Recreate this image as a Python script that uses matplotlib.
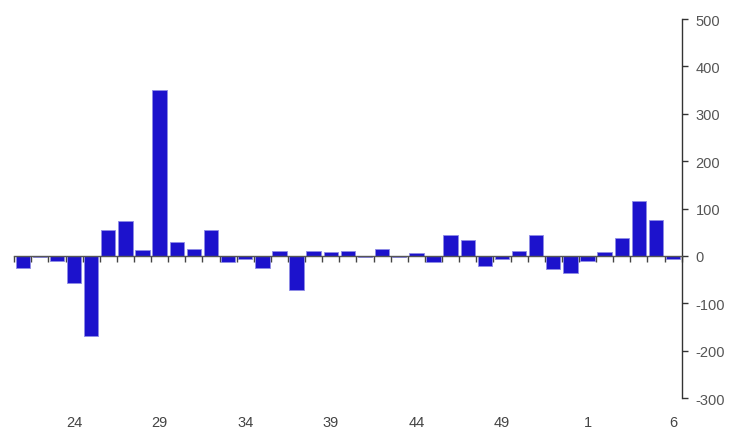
import numpy as np
import matplotlib
matplotlib.use("Agg")
import matplotlib.pyplot as plt
from matplotlib.ticker import FixedLocator

# weeks 21..53, then 1..6 of the next year
weeks = list(range(21, 54)) + list(range(1, 7))
values = [-25, -3, -10, -58, -169, 55, 73, 12, 350, 30, 14, 54, -12, -7,
          -26, 10, -73, 10, 8, 10, -3, 14, -2, 6, -13, 44, 33,
          -22, -7, 11, 44, -28, -37, -10, 9, 37, 116, 75, -7]
label_weeks = [24, 29, 34, 39, 44, 49, 1, 6]
yticks = [-300, -200, -100, 0, 100, 200, 300, 400, 500]

plt.rcParams['font.family'] = ['Liberation Sans', 'DejaVu Sans']
plt.rcParams['axes.unicode_minus'] = False

fig = plt.figure(figsize=(7.45, 4.39), dpi=100)
ax = fig.add_axes([0.019, 0.0911, 0.896, 0.8633])

x = np.arange(len(values))
ax.bar(x, values, width=0.84, color='#1c12cc', edgecolor='#8f8ce6', linewidth=0.6, zorder=2)

ax.set_xlim(-0.5, len(values) - 0.5)
ax.set_ylim(-300, 500)

# right axis
ax.yaxis.tick_right()
ax.spines['left'].set_visible(False)
ax.spines['top'].set_visible(False)
ax.spines['right'].set_color('#333333')
ax.spines['right'].set_linewidth(1.0)
ax.set_yticks(yticks)
ax.tick_params(axis='y', direction='out', length=4, width=1, color='#333333',
               labelcolor='#555555', labelsize=10.5, pad=6)

# zero line with small ticks between bars
ax.spines['bottom'].set_position(('data', 0))
ax.spines['bottom'].set_color('#555555')
ax.spines['bottom'].set_linewidth(1.0)
ax.spines['bottom'].set_zorder(3)
ax.xaxis.set_major_locator(FixedLocator(list(x - 0.5) + [x[-1] + 0.5]))
ax.tick_params(axis='x', direction='out', length=4, width=1, color='#444444', labelbottom=False)

# week labels along the bottom
pos = [weeks.index(w, 0 if w > 20 else 33) for w in label_weeks]
sec = ax.secondary_xaxis('bottom')
sec.spines['bottom'].set_visible(False)
sec.set_xticks(pos)
sec.set_xticklabels([str(w) for w in label_weeks])
sec.tick_params(axis='x', length=0, labelsize=10.5, labelcolor='#444444', pad=12)

fig.savefig('out.png', dpi=100)
